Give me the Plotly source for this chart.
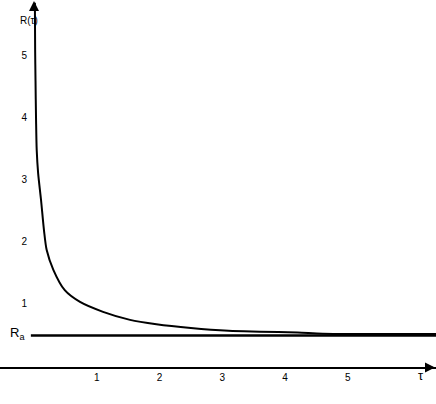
import plotly.graph_objects as go

# values
tau = [0.014, 0.018, 0.024, 0.032, 0.043, 0.066, 0.112, 0.159, 0.202, 0.308,
       0.49, 0.733, 1.1, 1.53, 1.95, 2.5, 3.1, 3.6, 4.2, 4.6, 5.5, 6.41]
r_tau = [5.86, 5.1, 4.6, 4.0, 3.48, 3.1, 2.67, 2.18, 1.86, 1.54,
         1.21, 1.02, 0.86, 0.73, 0.66, 0.60, 0.555, 0.54, 0.525, 0.505, 0.50, 0.50]
r_a = 0.477
x_ticks = [1, 2, 3, 4, 5]
y_ticks = [1, 2, 3, 4, 5]

W, H = 436, 404
x_range = [-0.542, 6.406]
y_range = [-0.631, 5.906]
font = 'Liberation Sans, Arial, sans-serif'

fig = go.Figure()

# R_a line
fig.add_trace(go.Scatter(x=[-0.05, x_range[1]], y=[r_a, r_a], mode='lines',
                         line=dict(color='black', width=2.5), hoverinfo='skip'))

# R(tau) curve
fig.add_trace(go.Scatter(x=tau, y=r_tau, mode='lines',
                         line=dict(color='black', width=2, shape='spline', smoothing=0.8),
                         hoverinfo='skip'))

fig.update_layout(
    width=W, height=H,
    margin=dict(l=0, r=0, t=0, b=0),
    paper_bgcolor='white', plot_bgcolor='white',
    showlegend=False,
    font=dict(family=font, color='black', size=10),
    xaxis=dict(range=x_range, anchor='free', position=(H - 367.5) / H,
               showline=True, linecolor='black', linewidth=2,
               showgrid=False, zeroline=False, ticks='',
               tickvals=x_ticks, tickfont=dict(size=10)),
    yaxis=dict(range=y_range, anchor='free', position=34 / W,
               showline=False, showgrid=False, zeroline=False, ticks='',
               tickvals=y_ticks, tickfont=dict(size=10), ticklabelstandoff=7),
)

# axis arrows
fig.add_annotation(x=1, y=(H - 367.5) / H, xref='paper', yref='paper',
                   ax=-8, ay=0, text=' ', showarrow=True,
                   arrowhead=2, arrowsize=1, arrowwidth=2, arrowcolor='black')
fig.add_annotation(x=0.0, y=1 - 1 / H, xref='x', yref='paper',
                   ax=0, ay=10, text=' ', showarrow=True,
                   arrowhead=2, arrowsize=1, arrowwidth=2, arrowcolor='black')

# labels
fig.add_annotation(x=17.5 / W, y=1 - 13 / H, xref='paper', yref='paper',
                   text='R(τ)', showarrow=False, font=dict(size=10))
fig.add_annotation(x=421 / W, y=1 - 366 / H, xref='paper', yref='paper',
                   xanchor='center', yanchor='top', text='τ', showarrow=False,
                   font=dict(size=13))
fig.add_annotation(x=-0.27, y=r_a, xref='x', yref='y', yshift=2,
                   text='R<sub>a</sub>', showarrow=False, font=dict(size=13))

fig.write_html("out.html", config={'displayModeBar': False},
               post_script="document.body.style.margin='0';")
